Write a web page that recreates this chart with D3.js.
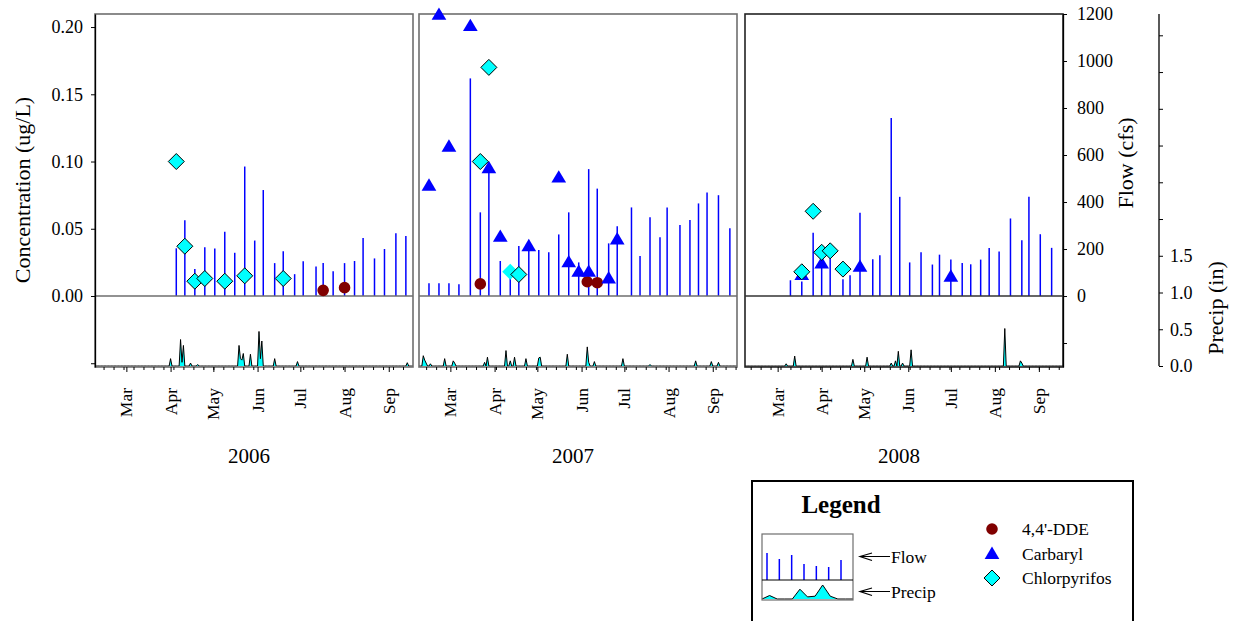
<!DOCTYPE html>
<html><head><meta charset="utf-8">
<script src="https://cdn.jsdelivr.net/npm/d3@7"></script>
<style>
body{margin:0;background:#fff}
svg{display:block}
text{font-family:"Liberation Serif","Times New Roman",serif;fill:#000}
</style>
</head><body>
<svg id="c" width="1236" height="621"></svg>
<script>
// ---------------- DATA ----------------
const years = [2006, 2007, 2008];
const monthLabels = ["Mar","Apr","May","Jun","Jul","Aug","Sep"];
const concTicks = [-0.05, 0, 0.05, 0.10, 0.15, 0.20];
const flowTicks = [-200, 0, 200, 400, 600, 800, 1000, 1200];
const precipTicks = [0, 0.5, 1.0, 1.5, 2.0, 2.5, 3.0, 3.5, 4.0, 4.5];
const precipLabeled = [0, 0.5, 1.0, 1.5];

// Flow (cfs)
const flowDates2006 = ["2006-04-05","2006-04-11","2006-04-18","2006-04-25","2006-05-02","2006-05-09","2006-05-16","2006-05-23","2006-05-30","2006-06-05","2006-06-13","2006-06-19","2006-06-27","2006-07-03","2006-07-12","2006-07-17","2006-07-24","2006-08-01","2006-08-08","2006-08-14","2006-08-22","2006-08-29","2006-09-06","2006-09-13"];
const flowValues2006 = [203,322,115,207,202,273,184,551,236,451,140,191,93,148,126,140,105,140,149,247,160,200,267,255];
const flowDates2007 = ["2007-02-14","2007-02-21","2007-02-28","2007-03-07","2007-03-15","2007-03-22","2007-03-28","2007-04-05","2007-04-12","2007-04-18","2007-04-25","2007-05-02","2007-05-09","2007-05-16","2007-05-23","2007-05-30","2007-06-06","2007-06-12","2007-06-20","2007-06-26","2007-07-06","2007-07-12","2007-07-19","2007-07-26","2007-07-31","2007-08-09","2007-08-16","2007-08-22","2007-08-28","2007-09-05","2007-09-13"];
const flowValues2007 = [54,54,54,50,926,356,523,149,110,213,203,196,186,262,356,143,540,457,224,297,377,170,335,250,377,302,323,394,440,429,288];
const flowDates2008 = ["2008-03-10","2008-03-18","2008-03-26","2008-04-01","2008-04-07","2008-04-16","2008-04-21","2008-04-28","2008-05-07","2008-05-12","2008-05-20","2008-05-26","2008-06-02","2008-06-10","2008-06-18","2008-06-23","2008-07-01","2008-07-09","2008-07-15","2008-07-22","2008-07-28","2008-08-04","2008-08-12","2008-08-20","2008-08-25","2008-09-02","2008-09-10"];
const flowValues2008 = [67,62,269,152,194,71,88,354,156,173,757,422,143,186,134,176,155,140,135,155,204,189,330,237,422,263,205];

// 4,4'-DDE (ug/L)
const ddeDates = ["2006-07-17","2006-08-01","2007-03-22","2007-06-05","2007-06-12"];
const ddeValues = [0.0042,0.0062,0.009,0.0106,0.0099];

// Carbaryl (ug/L)
const carbarylDates = ["2007-02-14","2007-02-21","2007-02-28","2007-03-15","2007-03-28","2007-04-05","2007-04-25","2007-05-16","2007-05-23","2007-05-30","2007-06-06","2007-06-20","2007-06-26","2008-03-18","2008-04-01","2008-04-28","2008-07-01"];
const carbarylValues = [0.082,0.209,0.111,0.2007,0.095,0.044,0.037,0.088,0.025,0.018,0.018,0.013,0.042,0.0155,0.024,0.0216,0.0143];

// Chlorpyrifos (ug/L)
const chlorDates = ["2006-04-05","2006-04-11","2006-04-18","2006-04-25","2006-05-09","2006-05-23","2006-06-19","2007-03-22","2007-03-28","2007-04-18","2008-03-18","2008-03-26","2008-04-01","2008-04-07","2008-04-16"];
const chlorValues = [0.100,0.037,0.011,0.013,0.011,0.015,0.013,0.100,0.170,0.016,0.018,0.063,0.0325,0.0336,0.020];
const chlorNoEdgeDates = ["2007-04-12"];
const chlorNoEdgeValues = [0.018];

// Precipitation (in), days with rain
const precipDates2006 = ["2006-04-01","2006-04-08","2006-04-09","2006-04-10","2006-04-15","2006-04-20","2006-05-19","2006-05-20","2006-05-21","2006-05-22","2006-05-27","2006-06-02","2006-06-03","2006-06-04","2006-06-13","2006-06-29","2006-09-14"];
const precipValues2006 = [0.10,0.36,0.05,0.28,0.04,0.02,0.28,0.10,0.08,0.17,0.16,0.47,0.10,0.34,0.10,0.06,0.045];
const precipDates2007 = ["2007-02-10","2007-02-11","2007-02-12","2007-02-15","2007-02-25","2007-03-03","2007-03-04","2007-03-25","2007-03-27","2007-04-09","2007-04-12","2007-04-15","2007-04-23","2007-05-02","2007-05-03","2007-05-22","2007-06-05","2007-06-06","2007-06-10","2007-06-30","2007-07-19","2007-08-20","2007-08-31","2007-09-05"];
const precipValues2007 = [0.14,0.08,0.04,0.03,0.10,0.07,0.04,0.05,0.12,0.21,0.07,0.12,0.10,0.11,0.12,0.16,0.26,0.05,0.06,0.10,0.02,0.07,0.06,0.05];
const precipDates2008 = ["2008-03-07","2008-03-13","2008-04-23","2008-05-03","2008-05-20","2008-05-23","2008-05-25","2008-05-28","2008-06-03","2008-08-08","2008-08-19","2008-08-20"];
const precipValues2008 = [0.03,0.135,0.09,0.12,0.04,0.07,0.20,0.04,0.22,0.51,0.07,0.04];

// Legend sample
const legendFlowSample = [27,21,25,16,14,13,20];
const legendPrecipSample = [0,0.25,0,0,0,0.7,0.15,0.2,1.0,0.2,0,0,0];

// ---------------- DRAW ----------------
const parse = d3.timeParse("%Y-%m-%d");
const fmt = d3.timeFormat("%Y-%m-%d");
const svg = d3.select("#c");
const panelLeft = [95, 419, 745], panelW = 318;
const T = 14, MID = 296, B = 367;
const frameColor = "#6e6e6e";

const yConc = d3.scaleLinear().domain([-0.0528, 0.2097]).range([B, T]);
const yFlow = d3.scaleLinear().domain([-302, 1200]).range([B, T]);
const yPrecip = d3.scaleLinear().domain([0, 4.79]).range([366, T]);

const flowD = {2006:flowDates2006, 2007:flowDates2007, 2008:flowDates2008};
const flowV = {2006:flowValues2006, 2007:flowValues2007, 2008:flowValues2008};
const precD = {2006:precipDates2006, 2007:precipDates2007, 2008:precipDates2008};
const precV = {2006:precipValues2006, 2007:precipValues2007, 2008:precipValues2008};

const circlePath = d3.symbol(d3.symbolCircle, Math.PI*5.8*5.8)();
const triPath = "M0,-7.4L7.35,4.9L-7.35,4.9Z";
const diaPath = "M0,-8L8,0L0,8L-8,0Z";

const defs = svg.append("defs");

years.forEach((yr, i) => {
  const L = panelLeft[i];
  const x = d3.scaleTime().domain([new Date(yr,1,7), new Date(yr,8,18)]).range([L, L+panelW]);
  const g = svg.append("g");

  // precip area
  defs.append("clipPath").attr("id","clip"+yr).append("rect")
    .attr("x",L).attr("y",MID).attr("width",panelW).attr("height",B-MID);
  const pm = new Map(precD[yr].map((d,k)=>[d, precV[yr][k]]));
  const days = d3.timeDay.range(x.domain()[0], d3.timeDay.offset(x.domain()[1],1));
  const series = days.map(d => ({d, v: pm.get(fmt(d)) || 0}));
  const pg = g.append("g").attr("clip-path","url(#clip"+yr+")");
  pg.append("path").datum(series).attr("fill","#00ffff")
    .attr("d", d3.area().x(d=>x(d.d)).y0(yPrecip(0)).y1(d=>yPrecip(d.v)));
  pg.append("path").datum(series).attr("fill","none").attr("stroke","#000").attr("stroke-width",1)
    .attr("d", d3.line().x(d=>x(d.d)).y(d=>yPrecip(d.v)));

  // flow bars
  g.append("g").selectAll("line").data(flowD[yr].map((d,k)=>({d:parse(d), v:flowV[yr][k]})))
    .join("line")
    .attr("x1", d=>x(d.d)).attr("x2", d=>x(d.d))
    .attr("y1", yFlow(0)).attr("y2", d=>yFlow(d.v))
    .attr("stroke","#0000ff").attr("stroke-width",1.5);

  // frame
  g.append("rect").attr("x",L).attr("y",T).attr("width",panelW).attr("height",B-T)
    .attr("fill","none").attr("stroke", i===2 ? "#222" : frameColor).attr("stroke-width",1.6);
  g.append("line").attr("x1",L).attr("x2",L+panelW).attr("y1",yFlow(0)).attr("y2",yFlow(0))
    .attr("stroke", i===2 ? "#333" : frameColor).attr("stroke-width",1.6);

  // x axis ticks
  const weeks = d3.timeMonday.range(x.domain()[0], x.domain()[1]);
  const months = d3.timeMonth.range(new Date(yr,2,1), new Date(yr,8,2));
  const ax1 = g.append("g").attr("transform",`translate(0,${B})`)
    .call(d3.axisBottom(x).tickValues(weeks).tickSize(3).tickFormat("").tickSizeOuter(0));
  ax1.select(".domain").remove();
  const ax2 = g.append("g").attr("transform",`translate(0,${B})`)
    .call(d3.axisBottom(x).tickValues(months).tickSize(5).tickFormat("").tickSizeOuter(0));
  ax2.select(".domain").remove();
  g.selectAll("text.mon").data(months).join("text").attr("class","mon")
    .attr("transform", d=>`translate(${x(d)},388) rotate(-90)`)
    .attr("dy","0.35em").attr("text-anchor","end").attr("font-size",17.5)
    .text((d,k)=>monthLabels[k]);

  // year label
  g.append("text").attr("x", L+panelW/2-5).attr("y",463).attr("text-anchor","middle")
    .attr("font-size",21).text(yr);

  // markers
  const inYear = (dates, vals) => dates.map((d,k)=>({d:parse(d), v:vals[k]})).filter(o=>o.d.getFullYear()===yr);
  g.append("g").selectAll("path").data(inYear(ddeDates, ddeValues)).join("path")
    .attr("d",circlePath).attr("transform",d=>`translate(${x(d.d)},${yConc(d.v)})`)
    .attr("fill","#800000");
  g.append("g").selectAll("path").data(inYear(carbarylDates, carbarylValues)).join("path")
    .attr("d",triPath).attr("transform",d=>`translate(${x(d.d)},${yConc(d.v)})`)
    .attr("fill","#0000ff");
  g.append("g").selectAll("path").data(inYear(chlorNoEdgeDates, chlorNoEdgeValues)).join("path")
    .attr("d",diaPath).attr("transform",d=>`translate(${x(d.d)},${yConc(d.v)})`)
    .attr("fill","#00ffff");
  g.append("g").selectAll("path").data(inYear(chlorDates, chlorValues)).join("path")
    .attr("d",diaPath).attr("transform",d=>`translate(${x(d.d)},${yConc(d.v)})`)
    .attr("fill","#00ffff").attr("stroke","#000").attr("stroke-width",1);
});

// Left concentration axis
const axL = svg.append("g").attr("transform",`translate(${panelLeft[0]},0)`)
  .call(d3.axisLeft(yConc).tickValues(concTicks).tickSize(4).tickPadding(8).tickSizeOuter(0)
    .tickFormat(d => d < 0 ? "" : d3.format(".2f")(d)));
axL.attr("font-family",null).attr("font-size",18);
axL.selectAll("text").attr("font-size",18);
axL.select(".domain").attr("stroke","#000").attr("stroke-width",1.3);

// Right flow axis
const R = panelLeft[2] + panelW;
const axR = svg.append("g").attr("transform",`translate(${R},0)`)
  .call(d3.axisRight(yFlow).tickValues(flowTicks).tickSize(4).tickPadding(10).tickSizeOuter(0)
    .tickFormat(d => d < 0 ? "" : d));
axR.attr("font-family",null).attr("font-size",18);
axR.select(".domain").attr("stroke","#000").attr("stroke-width",1.3);

// Precip axis
const axP = svg.append("g").attr("transform",`translate(1159,0)`)
  .call(d3.axisRight(yPrecip).tickValues(precipTicks).tickSize(4).tickPadding(7).tickSizeOuter(0)
    .tickFormat(d => precipLabeled.includes(d) ? d3.format(".1f")(d) : ""));
axP.attr("font-family",null).attr("font-size",18);
axP.select(".domain").attr("d", `M0,${T}V${yPrecip(0)}`).attr("stroke","#000").attr("stroke-width",1.3);

// axis titles
svg.append("text").attr("transform","translate(22,190) rotate(-90)").attr("dy","0.35em")
  .attr("text-anchor","middle").attr("font-size",22).text("Concentration (ug/L)");
svg.append("text").attr("transform","translate(1125,163) rotate(-90)").attr("dy","0.35em")
  .attr("text-anchor","middle").attr("font-size",22).text("Flow (cfs)");
svg.append("text").attr("transform","translate(1215,308) rotate(-90)").attr("dy","0.35em")
  .attr("text-anchor","middle").attr("font-size",22).text("Precip (in)");

// ---------------- LEGEND ----------------
const lg = svg.append("g");
lg.append("rect").attr("x",752).attr("y",481).attr("width",381).attr("height",170)
  .attr("fill","#fff").attr("stroke","#000").attr("stroke-width",2);
lg.append("text").attr("x",841).attr("y",513).attr("text-anchor","middle")
  .attr("font-size",25).attr("font-weight","bold").text("Legend");

// mini chart
const mx = d3.scaleLinear().domain([0, legendFlowSample.length-1]).range([767, 841]);
const my = d3.scaleLinear().domain([0, 46]).range([580, 534]);
const px = d3.scaleLinear().domain([0, legendPrecipSample.length-1]).range([762, 853]);
const py = d3.scaleLinear().domain([0, 1.0]).range([599, 585]);
lg.selectAll("line.mf").data(legendFlowSample).join("line").attr("class","mf")
  .attr("x1",(d,k)=>mx(k)).attr("x2",(d,k)=>mx(k)).attr("y1",my(0)).attr("y2",d=>my(d))
  .attr("stroke","#0000ff").attr("stroke-width",1.5);
lg.append("path").datum(legendPrecipSample).attr("fill","#00ffff")
  .attr("d", d3.area().x((d,k)=>px(k)).y0(py(0)).y1(d=>py(d)));
lg.append("path").datum(legendPrecipSample).attr("fill","none").attr("stroke","#000")
  .attr("d", d3.line().x((d,k)=>px(k)).y(d=>py(d)));
lg.append("rect").attr("x",762).attr("y",534).attr("width",91).attr("height",66)
  .attr("fill","none").attr("stroke",frameColor).attr("stroke-width",1.2);
lg.append("line").attr("x1",762).attr("x2",853).attr("y1",580).attr("y2",580).attr("stroke","#000");

// arrows
const arrows = [{y:556.5, label:"Flow"}, {y:591.5, label:"Precip"}];
arrows.forEach(a => {
  lg.append("path").attr("d",`M890,${a.y}H860M872,${a.y-3.5}L860,${a.y}L872,${a.y+4}`)
    .attr("fill","none").attr("stroke","#000").attr("stroke-width",1.2);
  lg.append("text").attr("x",891).attr("y",a.y+6).attr("font-size",17.5).text(a.label);
});

// series legend
const items = [
  {name:"4,4'-DDE", path:circlePath, fill:"#800000", stroke:"none", y:529},
  {name:"Carbaryl", path:triPath, fill:"#0000ff", stroke:"none", y:554},
  {name:"Chlorpyrifos", path:diaPath, fill:"#00ffff", stroke:"#000", y:578}
];
items.forEach(it => {
  lg.append("path").attr("d",it.path).attr("transform",`translate(992,${it.y})`)
    .attr("fill",it.fill).attr("stroke",it.stroke);
  lg.append("text").attr("x",1022).attr("y",it.y+6).attr("font-size",17.5).text(it.name);
});
</script>
</body></html>
